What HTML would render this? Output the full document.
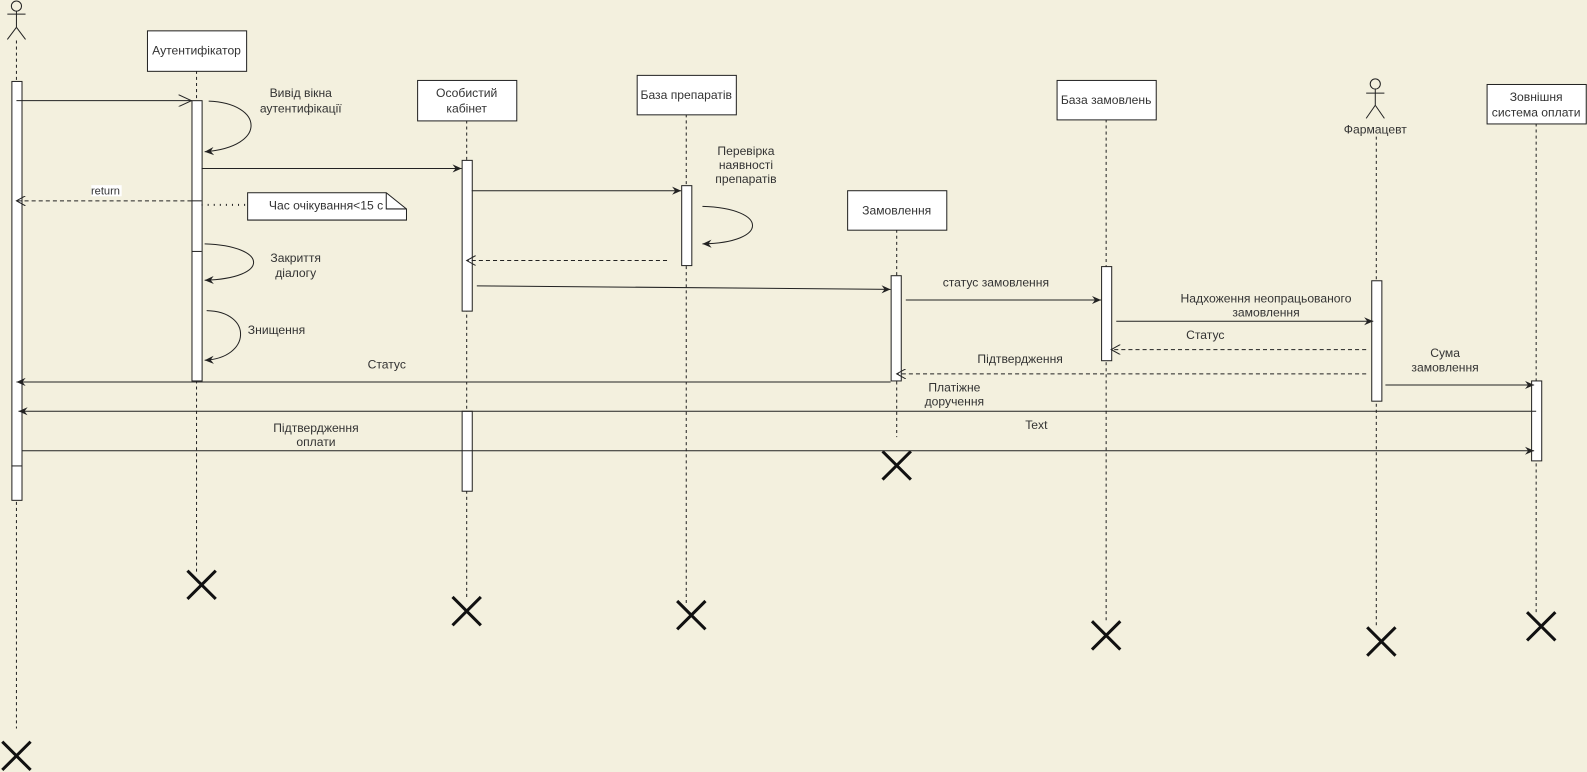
<!DOCTYPE html>
<html><head><meta charset="utf-8"><style>
html,body{margin:0;padding:0;background:#f3f0de;}
svg{display:block;font-family:"Liberation Sans",Arial,sans-serif;font-size:12px;}
text{fill:#333;text-anchor:middle;}
</style></head><body>
<svg width="1587" height="772" viewBox="0 0 1568 763" xmlns="http://www.w3.org/2000/svg">
<defs>
<marker id="a" markerWidth="10" markerHeight="10" refX="9" refY="5" orient="auto" markerUnits="userSpaceOnUse"><path d="M0,1 L9,5 L0,9 L3,5 Z" fill="#222"/></marker>
<marker id="o" markerWidth="14" markerHeight="12" refX="13" refY="6" orient="auto" markerUnits="userSpaceOnUse"><path d="M0,0 L13,6 L0,12" fill="none" stroke="#222"/></marker>
<marker id="d" markerWidth="10" markerHeight="10" refX="9" refY="5" orient="auto" markerUnits="userSpaceOnUse"><path d="M0,0 L9,5 L0,10" fill="none" stroke="#222"/></marker>
</defs>
<g stroke="#222" stroke-dasharray="3,3" fill="none">
<line x1="16" y1="40" x2="16" y2="720"/>
<line x1="194" y1="70" x2="194" y2="565"/>
<line x1="461" y1="119" x2="461" y2="592"/>
<line x1="678" y1="113" x2="678" y2="596"/>
<line x1="886" y1="227" x2="886" y2="432"/>
<line x1="1093" y1="118" x2="1093" y2="615"/>
<line x1="1360" y1="135" x2="1360" y2="620"/>
<line x1="1518" y1="122" x2="1518" y2="606"/>
</g>
<g stroke="#222" fill="none" stroke-width="1">
<circle cx="16" cy="6" r="5" fill="#f3f0de"/><line x1="16" y1="11" x2="16" y2="27"/><line x1="7" y1="14" x2="25" y2="14"/><line x1="16" y1="27" x2="7" y2="39"/><line x1="16" y1="27" x2="25" y2="39"/>
<circle cx="1359" cy="83" r="5" fill="#f3f0de"/><line x1="1359" y1="88" x2="1359" y2="104"/><line x1="1350" y1="92" x2="1368" y2="92"/><line x1="1359" y1="104" x2="1350" y2="117"/><line x1="1359" y1="104" x2="1368" y2="117"/>
</g>
<text x="1359" y="132">Фармацевт</text>
<g stroke="#222" fill="#fff">
<rect x="145.5" y="30.5" width="98" height="40"/>
<rect x="412.5" y="79.5" width="98" height="40"/>
<rect x="629.5" y="74.5" width="98" height="39"/>
<rect x="837.5" y="188.5" width="98" height="39"/>
<rect x="1044.5" y="79.5" width="98" height="39"/>
<rect x="1469.5" y="83.5" width="98" height="39"/>
</g>
<text x="194" y="54">Аутентифікатор</text>
<text x="461" y="96">Особистий</text><text x="461" y="111">кабінет</text>
<text x="678" y="98">База препаратів</text>
<text x="886" y="212">Замовлення</text>
<text x="1093" y="103">База замовлень</text>
<text x="1518" y="100">Зовнішня</text><text x="1518" y="115">система оплати</text>
<g stroke="#222" fill="#fff">
<rect x="11.5" y="80.5" width="10" height="414"/>
<rect x="189.5" y="99.5" width="10" height="277"/>
<rect x="456.5" y="158.5" width="10" height="149"/>
<rect x="456.5" y="406.5" width="10" height="79"/>
<rect x="673.5" y="183.5" width="10" height="79"/>
<rect x="880.5" y="272.5" width="10" height="104"/>
<rect x="1088.5" y="263.5" width="10" height="93"/>
<rect x="1355.5" y="277.5" width="10" height="119"/>
<rect x="1513.5" y="376.5" width="10" height="79"/>
</g>
<g stroke="#222"><line x1="11" y1="460.5" x2="21" y2="460.5"/><line x1="189" y1="198.5" x2="199" y2="198.5"/><line x1="189" y1="248.5" x2="199" y2="248.5"/></g>
<g stroke="#111" stroke-width="3">
<path d="M2,733 L30,761 M30,733 L2,761"/>
<path d="M185,564 L213,592 M213,564 L185,592"/>
<path d="M447,590 L475,618 M475,590 L447,618"/>
<path d="M669,594 L697,622 M697,594 L669,622"/>
<path d="M872,446 L900,474 M900,446 L872,474"/>
<path d="M1079,614 L1107,642 M1107,614 L1079,642"/>
<path d="M1351,620 L1379,648 M1379,620 L1351,648"/>
<path d="M1509,605 L1537,633 M1537,605 L1509,633"/>
</g>
<g stroke="#222" fill="none">
<line x1="16" y1="99.5" x2="189" y2="99.5" marker-end="url(#o)"/>
<path d="M206,100 C260,102 265,145 202,150" marker-end="url(#a)"/>
<line x1="199" y1="166.5" x2="456" y2="166.5" marker-end="url(#a)"/>
<line x1="189" y1="198.5" x2="16" y2="198.5" stroke-dasharray="4,3" marker-end="url(#d)"/>
<line x1="199" y1="202.5" x2="244" y2="202.5" stroke-dasharray="1,5" stroke-width="2"/>
<path d="M202,241 C265,243 268,275 202,277" marker-end="url(#a)"/>
<path d="M204,307 C250,308 248,354 202,356" marker-end="url(#a)"/>
<line x1="466" y1="188.5" x2="673" y2="188.5" marker-end="url(#a)"/>
<path d="M694,204 C760,206 760,240 694,241" marker-end="url(#a)"/>
<line x1="659" y1="257.5" x2="461" y2="257.5" stroke-dasharray="4,3" marker-end="url(#d)"/>
<line x1="471" y1="282.5" x2="880" y2="286" marker-end="url(#a)"/>
<line x1="895" y1="296.5" x2="1088" y2="296.5" marker-end="url(#a)"/>
<line x1="1103" y1="317.5" x2="1357" y2="317.5" marker-end="url(#a)"/>
<line x1="1350" y1="345.5" x2="1098" y2="345.5" stroke-dasharray="4,3" marker-end="url(#d)"/>
<line x1="1350" y1="369.5" x2="886" y2="369.5" stroke-dasharray="4,3" marker-end="url(#d)"/>
<line x1="880" y1="377.5" x2="16" y2="377.5" marker-end="url(#a)"/>
<line x1="1369" y1="380.5" x2="1516" y2="380.5" marker-end="url(#a)"/>
<line x1="1518" y1="406.5" x2="18" y2="406.5" marker-end="url(#a)"/>
<line x1="21" y1="445.5" x2="1516" y2="445.5" marker-end="url(#a)"/>
</g>
<path d="M244.5,190.5 L381.5,190.5 L401.5,206.5 L401.5,217.5 L244.5,217.5 Z" fill="#fff" stroke="#222"/>
<path d="M381.5,190.5 L381.5,206.5 L401.5,206.5" fill="none" stroke="#222"/>
<text x="322" y="207">Час очікування&lt;15 с</text>
<text x="297" y="96">Вивід вікна</text><text x="297" y="111">аутентифікації</text>
<rect x="90" y="183" width="30" height="11" fill="#fff"/>
<text x="104" y="192" style="font-size:11px">return</text>
<text x="292" y="259">Закриття</text><text x="292" y="274">діалогу</text>
<text x="273" y="330">Знищення</text>
<text x="737" y="153">Перевірка</text><text x="737" y="167">наявності</text><text x="737" y="181">препаратів</text>
<text x="984" y="283">статус замовлення</text>
<text x="1251" y="299">Надхоження неопрацьованого</text><text x="1251" y="313">замовлення</text>
<text x="1191" y="335">Статус</text>
<text x="1008" y="359">Підтвердження</text>
<text x="382" y="364">Статус</text>
<text x="1428" y="353">Сума</text><text x="1428" y="367">замовлення</text>
<text x="943" y="387">Платіжне</text><text x="943" y="401">доручення</text>
<text x="1024" y="424">Text</text>
<text x="312" y="427">Підтвердження</text><text x="312" y="441">оплати</text>
</svg>
</body></html>
